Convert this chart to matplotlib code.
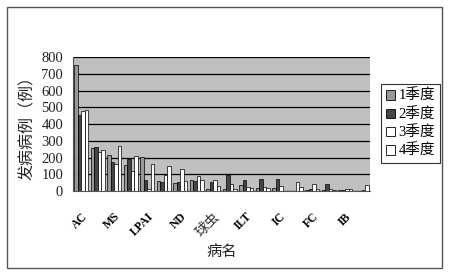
import matplotlib
matplotlib.use("Agg")
import matplotlib.pyplot as plt
import numpy as np
from matplotlib.patches import Rectangle, Patch

plt.rcParams['font.family'] = ['Liberation Serif', 'Noto Sans CJK SC']

# 18 diseases, only every other one is labelled on the axis
labels = ['AC', 'MS', 'LPAI', 'ND', '球虫', 'ILT', 'IC', 'FC', 'IB']
q1 = [752, 260, 216, 156, 204, 62, 46, 66, 12, 12, 36, 16, 16, 0, 4, 6, 8, 0]
q2 = [456, 266, 172, 190, 66, 56, 56, 60, 56, 96, 66, 72, 72, 0, 12, 40, 6, 0]
q3 = [476, 232, 160, 120, 14, 96, 130, 92, 66, 40, 22, 26, 30, 56, 40, 12, 10, 6]
q4 = [484, 248, 272, 208, 160, 148, 60, 66, 32, 12, 16, 20, 0, 26, 10, 8, 12, 34]
series = ['1季度', '2季度', '3季度', '4季度']
colors = ['#989898', '#454545', 'white', 'white']

fig = plt.figure(figsize=(4.5, 2.75), dpi=100)
ax = fig.add_axes([0.162, 0.305, 0.66, 0.487])
ax.set_facecolor('#c0c0c0')

x = np.arange(len(q1))
w = 0.21
for i, (vals, c) in enumerate(zip([q1, q2, q3, q4], colors)):
    ax.bar(x + (i - 1.5) * w, vals, w, color=c, edgecolor='black', linewidth=0.5, zorder=3)

ax.set_xlim(-0.5, len(q1) - 0.5)
ax.set_ylim(0, 800)
ax.set_yticks(range(0, 801, 100))
ax.yaxis.grid(True, color='black', linewidth=0.9, zorder=1)
ax.set_axisbelow(True)
ax.tick_params(axis='y', length=0, labelsize=10.5, pad=7, colors='#222222')
ax.set_xticks(x[::2])
ax.set_xticklabels(labels, rotation=45, ha='right', rotation_mode='anchor',
                   fontsize=8.5, fontweight='bold')
for t in ax.get_xticklabels():
    if t.get_text() == '球虫':
        t.set_fontweight('normal')
        t.set_fontsize(10)
        t.set_color('#333333')
ax.tick_params(axis='x', length=0, pad=14)
for s in ['top', 'right']:
    ax.spines[s].set_visible(False)
ax.spines['left'].set_color('#555555')
ax.spines['bottom'].set_color('#555555')

ax.set_ylabel('发病病例（例）', fontsize=11.5, labelpad=4, color='#222222')
ax.set_xlabel('病名', fontsize=11, labelpad=4, color='#222222')

handles = [Patch(facecolor=c, edgecolor='black', linewidth=0.6) for c in colors]
leg = fig.legend(handles, series, loc='upper left', bbox_to_anchor=(381 / 450, 1 - 84 / 275),
                 fontsize=10.5, frameon=True, fancybox=False, handlelength=0.6, handleheight=0.6,
                 handletextpad=0.25, borderpad=0.35, labelspacing=0.3, borderaxespad=0)
leg.get_frame().set_edgecolor('black')
leg.get_frame().set_linewidth(0.8)

fig.patches.append(Rectangle((7 / 450, 7 / 275), 435 / 450, 261 / 275, transform=fig.transFigure,
                             fill=False, edgecolor='#555555', linewidth=1))

fig.savefig('out.png', dpi=100)
